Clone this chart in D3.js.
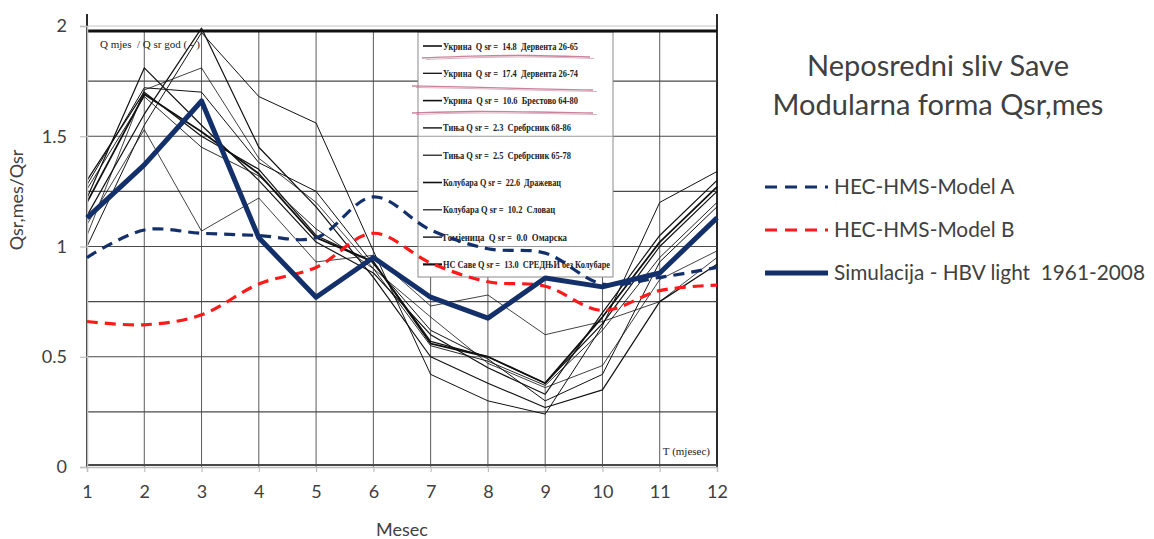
<!DOCTYPE html>
<html><head><meta charset="utf-8">
<script src="https://cdn.jsdelivr.net/npm/d3@7"></script>
<style>
html,body{margin:0;padding:0;background:#fff;}
svg{display:block;}
text{white-space:pre;}
</style></head>
<body>
<svg id="chart" width="1154" height="539"></svg>
<script>
// ---------- DATA ----------
const months = [1,2,3,4,5,6,7,8,9,10,11,12];
const yTicks = [0, 0.5, 1, 1.5, 2];
const scanGrid = [0, 0.25, 0.5, 0.75, 1, 1.25, 1.5, 1.75];

const modelA = [0.95, 1.075, 1.06, 1.05, 1.04, 1.225, 1.075, 0.99, 0.97, 0.83, 0.86, 0.905];
const modelB = [0.66, 0.645, 0.69, 0.83, 0.905, 1.06, 0.925, 0.84, 0.82, 0.71, 0.80, 0.825];
const hbv    = [1.13, 1.37, 1.66, 1.04, 0.77, 0.95, 0.77, 0.675, 0.857, 0.817, 0.88, 1.13];

const stationNames = [
  "Укрина  Q sr =  14.8  Дервента 26-65",
  "Укрина  Q sr =  17.4  Дервента 26-74",
  "Укрина  Q sr =  10.6  Брестово 64-80",
  "Тиња Q sr =  2.3  Сребрсник 68-86",
  "Тиња Q sr =  2.5  Сребрсник 65-78",
  "Колубара Q sr =  22.6  Дражевац",
  "Колубара Q sr =  10.2  Словац",
  "Гомјеница  Q sr =  0.0  Омарска",
  "НС Саве Q sr =  13.0  СРЕДЊИ без Колубаре"
];
const stationTextWidths = [135, 135, 135, 128, 128, 118, 112, 124, 167];
const st1 = [1.30, 1.70, 1.50, 1.35, 1.05, 0.93, 0.57, 0.50, 0.38, 0.65, 1.00, 1.25];
const st2 = [1.26, 1.68, 1.45, 1.32, 1.08, 0.90, 0.55, 0.48, 0.37, 0.62, 0.95, 1.20];
const st3 = [1.22, 1.81, 1.55, 1.30, 1.02, 0.88, 0.60, 0.45, 0.33, 0.70, 1.05, 1.30];
const st4 = [1.00, 1.55, 1.97, 1.68, 1.56, 0.98, 0.42, 0.30, 0.24, 0.64, 1.20, 1.34];
const st5 = [1.10, 1.53, 1.07, 1.22, 0.93, 0.96, 0.73, 0.78, 0.60, 0.66, 0.75, 0.95];
const st6 = [1.14, 1.60, 1.99, 1.45, 1.18, 0.86, 0.50, 0.38, 0.27, 0.35, 0.75, 0.92];
const st7 = [1.05, 1.71, 1.81, 1.40, 1.20, 0.90, 0.68, 0.47, 0.36, 0.46, 0.85, 0.98];
const st8 = [1.28, 1.72, 1.70, 1.38, 1.25, 0.92, 0.62, 0.49, 0.30, 0.42, 0.93, 1.18];
const st9 = [1.20, 1.69, 1.52, 1.33, 1.04, 0.93, 0.56, 0.50, 0.38, 0.68, 1.02, 1.27];
const stations = [st1, st2, st3, st4, st5, st6, st7, st8, st9];
const stationWidths = [1.2, 0.9, 1.2, 1, 0.8, 1.2, 0.8, 1, 1.8];

const titleLines = ["Neposredni sliv Save", "Modularna forma Qsr,mes"];
const legendLabels = ["HEC-HMS-Model A", "HEC-HMS-Model B", "Simulacija - HBV light  1961-2008"];

// ---------- DRAW ----------
const svg = d3.select("#chart");
const navy = "#13306a", red = "#ff1a1a", axisGray = "#bfbfbf", textGray = "#404040";
const x = d3.scaleLinear().domain([1, 12]).range([87, 717]);
const y = d3.scaleLinear().domain([0, 2]).range([467, 26]);

// Excel gridline at 2
svg.append("line").attr("x1", x(1)).attr("x2", x(12)).attr("y1", y(2)).attr("y2", y(2))
  .attr("stroke", "#d9d9d9").attr("stroke-width", 1.5);

// scanned grid: verticals
const g = svg.append("g");
g.selectAll("line.v").data(months.slice(1, 11)).join("line")
  .attr("x1", d => x(d)).attr("x2", d => x(d))
  .attr("y1", y(1.98)).attr("y2", y(0))
  .attr("stroke", "#5a5a5a").attr("stroke-width", 1);
// scanned frame edges
[1, 12].forEach(m => {
  g.append("line").attr("x1", x(m)).attr("x2", x(m)).attr("y1", 14).attr("y2", y(0))
    .attr("stroke", "#2a2a2a").attr("stroke-width", 2);
});
// scanned horizontals
g.selectAll("line.h").data(scanGrid).join("line")
  .attr("x1", x(1)).attr("x2", x(12))
  .attr("y1", d => y(d) + (d === 0 ? -2 : 0)).attr("y2", d => y(d) + (d === 0 ? -2 : 0))
  .attr("stroke", "#4a4a4a").attr("stroke-width", d => d === 0 ? 2 : 1.1);

// station lines
const line = d3.line().x((d, i) => x(months[i])).y(d => y(d));
svg.append("g").selectAll("path").data(stations).join("path")
  .attr("d", d => line(d)).attr("fill", "none")
  .attr("stroke", "#111").attr("stroke-width", (d, i) => stationWidths[i])
  .attr("stroke-linejoin", "round");

// scanned legend box
const bx = 418, bw = 195, by = 32, bh = 245;
svg.append("rect").attr("x", bx).attr("y", by).attr("width", bw).attr("height", bh)
  .attr("fill", "#fff").attr("stroke", "#8a8a8a").attr("stroke-width", 1);
[1.5, 1].forEach(v => {
  svg.append("line").attr("x1", bx).attr("x2", bx + bw).attr("y1", y(v)).attr("y2", y(v))
    .attr("stroke", "#9a9a9a").attr("stroke-width", 1.2);
});
const rowY = i => 46 + i * 27.3;
const lg = svg.append("g");
stationNames.forEach((name, i) => {
  lg.append("line").attr("x1", 423).attr("x2", 442).attr("y1", rowY(i)).attr("y2", rowY(i))
    .attr("stroke", "#111").attr("stroke-width", stationWidths[i] + 0.4);
  lg.append("text").attr("x", 443).attr("y", rowY(i) + 3.5)
    .attr("font-family", "Liberation Serif, serif").attr("font-size", 10)
    .attr("font-weight", "bold").attr("fill", "#222")
    .attr("textLength", stationTextWidths[i]).attr("lengthAdjust", "spacingAndGlyphs")
    .text(name);
});
// hand-drawn pink underlines of the scan
const scribble = d3.line().curve(d3.curveBasis);
[[[422, 58], [470, 56], [530, 55], [590, 57]],
 [[412, 86], [470, 87], [540, 89], [593, 90]],
 [[412, 113], [470, 111], [540, 112], [593, 113]]].forEach(pts => {
  lg.append("path").attr("d", scribble(pts)).attr("fill", "none")
    .attr("stroke", "#b8577c").attr("stroke-width", 1.3).attr("opacity", 0.75);
  lg.append("path").attr("d", scribble(pts.map(p => [p[0] + 4, p[1] + 1.5]))).attr("fill", "none")
    .attr("stroke", "#c77b96").attr("stroke-width", 1).attr("opacity", 0.6);
});

// thick top line of the scan
svg.append("line").attr("x1", x(1)).attr("x2", x(12)).attr("y1", 31).attr("y2", 31)
  .attr("stroke", "#111").attr("stroke-width", 3);

// scanned annotations
svg.append("text").attr("x", 100).attr("y", 48)
  .attr("font-family", "Liberation Serif, serif").attr("font-size", 11).attr("fill", "#222")
  .text("Q mjes  / Q sr god ( - )");
svg.append("text").attr("x", 710).attr("y", 455).attr("text-anchor", "end")
  .attr("font-family", "Liberation Serif, serif").attr("font-size", 11).attr("fill", "#222")
  .text("T (mjesec)");

// Excel axes
const yAxis = svg.append("g").attr("transform", `translate(${x(1)},0)`)
  .call(d3.axisLeft(y).tickValues(yTicks).tickSize(7).tickPadding(13).tickFormat(d => String(d)));
const xAxis = svg.append("g").attr("transform", `translate(0,${y(0)})`)
  .call(d3.axisBottom(x).tickValues(months).tickSize(5).tickPadding(13).tickFormat(d => String(d)));
[yAxis, xAxis].forEach(a => {
  a.selectAll("path").attr("stroke", axisGray).attr("stroke-width", 1.5);
  a.selectAll("line").attr("stroke", axisGray).attr("stroke-width", 1.2);
  a.selectAll("text").attr("fill", textGray).attr("font-family", "Lato, sans-serif").attr("font-size", 18);
});

// model series
const smooth = d3.line().x((d, i) => x(months[i])).y(d => y(d)).curve(d3.curveCatmullRom.alpha(0.5));
svg.append("path").attr("d", smooth(modelB)).attr("fill", "none")
  .attr("stroke", red).attr("stroke-width", 3.2).attr("stroke-dasharray", "11,7");
svg.append("path").attr("d", smooth(modelA)).attr("fill", "none")
  .attr("stroke", navy).attr("stroke-width", 3.2).attr("stroke-dasharray", "11,7");
svg.append("path").attr("d", line(hbv)).attr("fill", "none")
  .attr("stroke", navy).attr("stroke-width", 5).attr("stroke-linejoin", "round");

// axis titles
svg.append("text").attr("transform", "translate(23,200) rotate(-90)").attr("text-anchor", "middle")
  .attr("font-family", "Lato, sans-serif").attr("font-size", 18).attr("fill", textGray)
  .text("Qsr,mes/Qsr");
svg.append("text").attr("x", 402).attr("y", 536).attr("text-anchor", "middle")
  .attr("font-family", "Lato, sans-serif").attr("font-size", 18).attr("fill", textGray)
  .text("Mesec");

// chart title
svg.selectAll("text.title").data(titleLines).join("text")
  .attr("x", 938).attr("y", (d, i) => 76 + i * 39).attr("text-anchor", "middle")
  .attr("font-family", "Lato, sans-serif").attr("font-size", 29).attr("fill", textGray)
  .text(d => d);

// legend
const legStyles = [
  {stroke: navy, dash: "12,8", w: 3.2},
  {stroke: red, dash: "12,8", w: 3.2},
  {stroke: navy, dash: null, w: 5}
];
legendLabels.forEach((lab, i) => {
  const ly = 187 + i * 43;
  svg.append("line").attr("x1", 765).attr("x2", 828).attr("y1", ly).attr("y2", ly)
    .attr("stroke", legStyles[i].stroke).attr("stroke-width", legStyles[i].w)
    .attr("stroke-dasharray", legStyles[i].dash);
  svg.append("text").attr("x", 834).attr("y", ly + 7)
    .attr("font-family", "Lato, sans-serif").attr("font-size", 20.8).attr("fill", textGray)
    .text(lab);
});
</script>
</body></html>
